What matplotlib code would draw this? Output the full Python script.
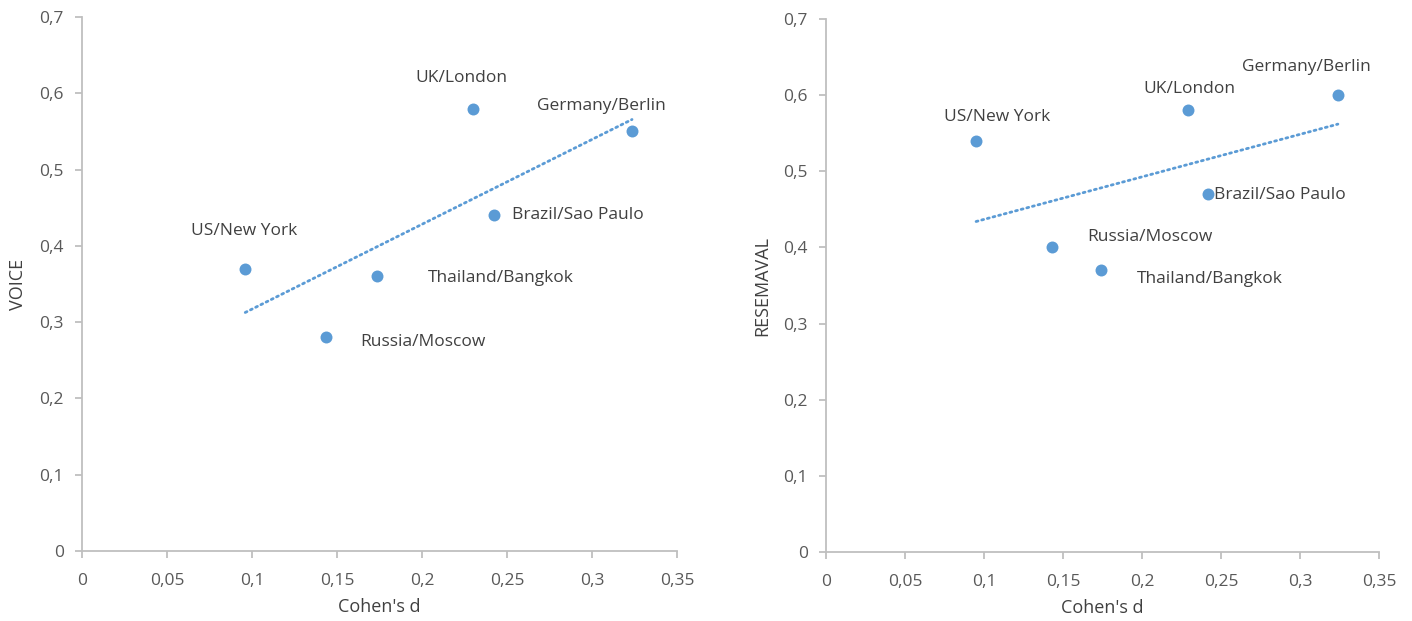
import numpy as np
import matplotlib
matplotlib.use("Agg")
import matplotlib.pyplot as plt
from matplotlib.ticker import FuncFormatter

labels = ["US/New York", "Russia/Moscow", "Thailand/Bangkok", "UK/London", "Brazil/Sao Paulo", "Germany/Berlin"]
cohen_left = [0.096, 0.1435, 0.1735, 0.230, 0.2425, 0.3235]
voice = [0.37, 0.28, 0.36, 0.58, 0.44, 0.55]
cohen_right = [0.095, 0.143, 0.174, 0.229, 0.242, 0.324]
resemaval = [0.54, 0.40, 0.37, 0.58, 0.47, 0.60]

# label offsets in pixels (dx, dy, ha)
left_offsets = [(-1, 38, "center"), (34, -5, "left"), (51, -2, "left"),
                (-12, 31, "center"), (18, 0, "left"), (-31, 25, "center")]
right_offsets = [(21, 24, "center"), (35, 10, "left"), (36, -9, "left"),
                 (2, 21, "center"), (6, -1, "left"), (-32, 28, "center")]

plt.rcParams['font.family'] = ['Open Sans', 'DejaVu Sans']
BLUE = "#5B9BD5"
AX = "#BFBFBF"
TXT = "#404040"
TICK = "#595959"

fig = plt.figure(figsize=(14.12, 6.21), dpi=100)
ax1 = fig.add_axes([0.0581, 0.1127, 0.4214, 0.8599])
ax2 = fig.add_axes([0.5850, 0.1111, 0.3916, 0.8583])

fmt = FuncFormatter(lambda v, p: ("%g" % round(v, 2)).replace(".", ","))

def draw(ax, xs, ys, offsets, ylabel):
    xs = np.array(xs); ys = np.array(ys)
    ax.scatter(xs, ys, s=74, color=BLUE, zorder=3, linewidths=0)
    k, b = np.polyfit(xs, ys, 1)
    xl = np.array([xs.min(), xs.max()])
    ax.plot(xl, k * xl + b, color=BLUE, lw=2.0, linestyle=(0, (0.7, 1.4)),
            dash_capstyle="round", zorder=2)
    for x, y, lab, (dx, dy, ha) in zip(xs, ys, labels, offsets):
        ax.annotate(lab, (x, y), xytext=(dx * 0.72, dy * 0.72), textcoords="offset points",
                    ha=ha, va="center", fontsize=12.5, color=TXT)
    ax.set_xlim(0, 0.35)
    ax.set_ylim(0, 0.7)
    ax.set_xticks(np.arange(0, 0.351, 0.05))
    ax.set_yticks(np.arange(0, 0.701, 0.1))
    ax.xaxis.set_major_formatter(fmt)
    ax.yaxis.set_major_formatter(fmt)
    for s in ["top", "right"]:
        ax.spines[s].set_visible(False)
    for s in ["left", "bottom"]:
        ax.spines[s].set_color(AX)
        ax.spines[s].set_linewidth(1.3)
    ax.tick_params(axis="both", colors=AX, labelcolor=TICK, labelsize=12.5,
                   length=5, width=1.3, direction="out")
    ax.tick_params(axis="x", pad=11)
    ax.tick_params(axis="y", pad=8)
    ax.set_xlabel("Cohen's d", fontsize=13, color=TXT, labelpad=6)
    ax.set_ylabel(ylabel, fontsize=13, color=TXT, labelpad=9)

draw(ax1, cohen_left, voice, left_offsets, "VOICE")
draw(ax2, cohen_right, resemaval, right_offsets, "RESEMAVAL")

fig.savefig("out.png", dpi=100)
